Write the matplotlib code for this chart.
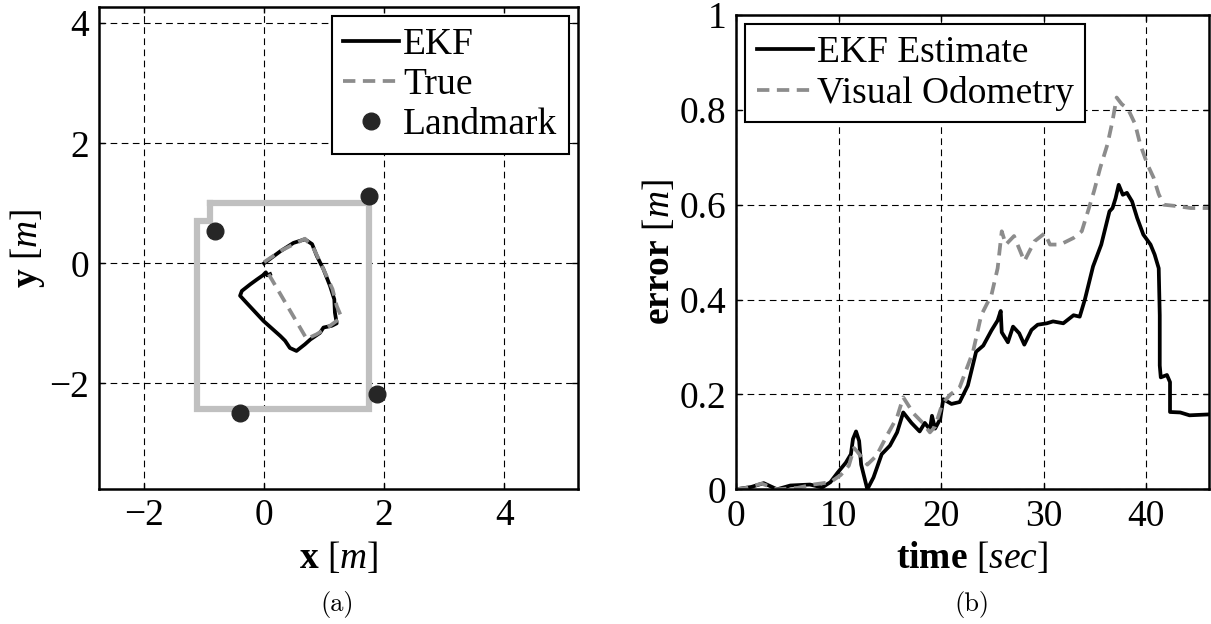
import numpy as np
import matplotlib
matplotlib.use("Agg")
import matplotlib.pyplot as plt

plt.rcParams['font.family'] = 'serif'
plt.rcParams['font.serif'] = ['Liberation Serif', 'DejaVu Serif']
plt.rcParams['mathtext.fontset'] = 'custom'
plt.rcParams['mathtext.rm'] = 'Liberation Serif'
plt.rcParams['mathtext.it'] = 'Liberation Serif:italic'
plt.rcParams['mathtext.bf'] = 'Liberation Serif:bold'

# ---- (a) trajectory ----
room_x = [-0.9, 1.74, 1.74, -1.12, -1.12, -0.9, -0.9]
room_y = [1.01, 1.01, -2.43, -2.43, 0.705, 0.705, 1.01]

lm_x = [1.74, -0.82, 1.88, -0.40]
lm_y = [1.12, 0.53, -2.18, -2.49]

ekf_x = [0.0, 0.27, 0.49, 0.68, 0.80, 0.88, 0.99, 1.10, 1.17, 1.18, 1.21, 1.13, 0.99, 0.93,
         0.77, 0.68, 0.54, 0.43, 0.35, 0.27, -0.01, -0.29, -0.40, -0.37, -0.23, -0.12, -0.02,
         0.03, 0.05, 0.10]
ekf_y = [0.0, 0.20, 0.34, 0.40, 0.32, 0.12, -0.10, -0.38, -0.60, -0.82, -1.00, -1.04, -1.07,
         -1.16, -1.27, -1.35, -1.46, -1.41, -1.29, -1.21, -0.96, -0.66, -0.54, -0.46, -0.35,
         -0.27, -0.20, -0.15, -0.20, -0.18]

true_x = [0.0, 0.30, 0.68, 0.82, 0.99, 1.14, 1.21, 1.29, 1.10, 0.88, 0.71, 0.07]
true_y = [0.02, 0.22, 0.41, 0.26, -0.10, -0.43, -0.71, -0.90, -1.04, -1.18, -1.26, -0.17]

# ---- (b) error over time ----
ekf_t = [0, 1.5, 2.7, 4.0, 5.3, 7.2, 8.4, 9.2, 9.9, 10.7, 11.2, 11.4, 11.7, 12.0, 12.2, 12.8,
         13.4, 14.2, 15.0, 15.7, 16.3, 17.1, 17.9, 18.4, 18.9, 19.1, 19.4, 19.9, 20.2, 21.0,
         21.8, 22.6, 23.4, 24.1, 24.9, 25.5, 25.8, 25.9, 26.5, 27.0, 27.6, 28.1, 28.8, 29.4,
         30.3, 30.9, 31.9, 32.9, 33.5, 34.0, 34.8, 35.6, 36.4, 36.7, 37.0, 37.3, 37.7, 38.1,
         38.6, 39.1, 39.7, 40.4, 40.8, 41.2, 41.3, 41.3, 41.4, 42.0, 42.3, 42.3, 43.3, 44.2, 46.2]
ekf_err = [0, 0.005, 0.013, 0.0, 0.008, 0.01, 0.004, 0.015, 0.035, 0.056, 0.074, 0.106, 0.122,
           0.102, 0.052, 0.0, 0.025, 0.074, 0.092, 0.12, 0.162, 0.14, 0.122, 0.14, 0.126, 0.155,
           0.128, 0.148, 0.19, 0.18, 0.184, 0.219, 0.29, 0.303, 0.335, 0.356, 0.376, 0.331, 0.31,
           0.343, 0.329, 0.305, 0.336, 0.347, 0.35, 0.354, 0.35, 0.367, 0.364, 0.40, 0.47, 0.516,
           0.586, 0.593, 0.614, 0.642, 0.621, 0.625, 0.607, 0.572, 0.537, 0.516, 0.495, 0.466,
           0.367, 0.261, 0.236, 0.241, 0.226, 0.163, 0.162, 0.156, 0.158]

vo_t = [0, 1.0, 2.5, 4.0, 6.0, 7.5, 9.2, 10.2, 11.0, 11.5, 11.8, 12.8, 13.7, 14.7, 15.7, 16.3,
        17.3, 18.2, 18.9, 19.4, 20.1, 20.9, 21.8, 23.1, 23.9, 24.9, 25.5, 25.9, 26.3, 27.1, 28.1,
        29.1, 30.1, 30.6, 31.6, 32.9, 33.7, 34.4, 34.9, 35.5, 36.2, 36.7, 37.1, 37.6, 38.2, 38.9,
        39.4, 40.1, 40.7, 41.2, 41.7, 43.0, 44.3, 46.2]
vo_err = [0, 0.003, 0.012, 0.0, 0.003, 0.01, 0.015, 0.03, 0.05, 0.087, 0.08, 0.052, 0.071, 0.113,
          0.152, 0.194, 0.16, 0.14, 0.12, 0.132, 0.18, 0.2, 0.215, 0.29, 0.367, 0.41, 0.466, 0.544,
          0.516, 0.534, 0.481, 0.523, 0.54, 0.516, 0.516, 0.53, 0.544, 0.593, 0.629, 0.678, 0.727,
          0.777, 0.826, 0.812, 0.802, 0.77, 0.727, 0.685, 0.657, 0.622, 0.6, 0.597, 0.593, 0.593]

FS = 27
LW = 2.7
dash = (0, (3.3, 2.0))
gray = '#8c8c8c'


def style_axes(ax):
    for s in ax.spines.values():
        s.set_linewidth(1.8)
    ax.tick_params(direction='in', top=True, right=True, length=4, width=1,
                   labelsize=FS, pad=7)
    ax.grid(True, color='black', linestyle=(0, (6, 4)), linewidth=0.8)
    ax.set_axisbelow(True)


fig = plt.figure(figsize=(12.11, 6.24), dpi=100)

ax1 = fig.add_axes([99 / 1211, 1 - 489 / 624, 479 / 1211, 482 / 624])
ax1.plot(room_x, room_y, color='#c0c0c0', lw=4.5, solid_joinstyle='miter')
ax1.plot(ekf_x, ekf_y, color='black', lw=LW, label='EKF')
ax1.plot(true_x, true_y, color=gray, lw=LW, linestyle=dash, label='True')
ax1.plot(lm_x, lm_y, 'o', color='#262626', ms=12, label='Landmark')
ax1.set_xlim(-2.75, 5.23)
ax1.set_ylim(-3.76, 4.27)
ax1.set_xticks([-2, 0, 2, 4])
ax1.set_yticks([-2, 0, 2, 4])
style_axes(ax1)
ax1.set_xlabel(r'$\mathbf{x}$ [$m$]', fontsize=FS, labelpad=5)
ax1.set_ylabel(r'$\mathbf{y}$ [$m$]', fontsize=FS, labelpad=2)
leg = ax1.legend(loc='upper right', fontsize=FS, numpoints=1, handlelength=1.5,
                 handletextpad=0.1, borderpad=0.3, labelspacing=0.15, borderaxespad=0.25,
                 fancybox=False, framealpha=1, edgecolor='black')
leg.get_frame().set_linewidth(1.5)

ax2 = fig.add_axes([736 / 1211, 1 - 489.3 / 624, 473 / 1211, 474.3 / 624])
ax2.plot(ekf_t, ekf_err, color='black', lw=LW, label='EKF Estimate')
ax2.plot(vo_t, vo_err, color=gray, lw=LW, linestyle=dash, label='Visual Odometry')
ax2.set_xlim(0, 46.1)
ax2.set_ylim(0, 1)
ax2.set_xticks([0, 10, 20, 30, 40])
ax2.set_yticks([0, 0.2, 0.4, 0.6, 0.8, 1])
ax2.set_yticklabels(['0', '0.2', '0.4', '0.6', '0.8', '1'])
style_axes(ax2)
ax2.set_xlabel(r'$\mathbf{time}$ [$sec$]', fontsize=FS, labelpad=5)
ax2.set_ylabel(r'$\mathbf{error}$ [$m$]', fontsize=FS, labelpad=2)
leg2 = ax2.legend(loc='upper left', fontsize=FS, handlelength=1.5, handletextpad=0.1,
                  borderpad=0.3, labelspacing=0.15, borderaxespad=0.25, fancybox=False,
                  framealpha=1, edgecolor='black')
leg2.get_frame().set_linewidth(1.5)

# captions under each panel
fig.text(337 / 1211, 1 - 604 / 624, '(a)', fontsize=19, family='cmr10', ha='center', va='center')
fig.text(972 / 1211, 1 - 604 / 624, '(b)', fontsize=19, family='cmr10', ha='center', va='center')

fig.savefig('out.png', dpi=100)
